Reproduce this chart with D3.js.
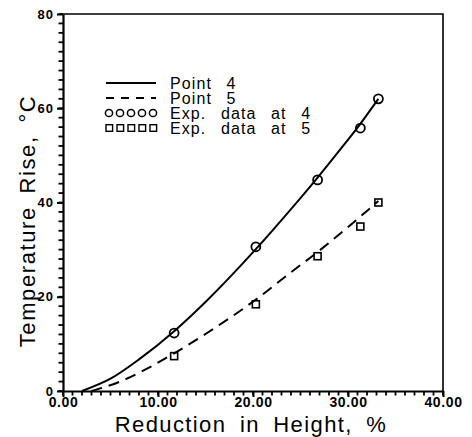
<!DOCTYPE html>
<html>
<head>
<meta charset="utf-8">
<script src="https://cdn.jsdelivr.net/npm/d3@7"></script>
<style>
  body { margin: 0; background: #fff; }
  svg { display: block; font-family: "Liberation Sans", Arial, sans-serif; }
</style>
</head>
<body>
<svg id="chart" width="472" height="437"></svg>
<script>
// curve readings (Point 4 solid, Point 5 dashed)
var curve4X = [2, 5, 8, 11.7, 15, 20.3, 24, 26.8, 29, 31.3, 33.2];
var curve4Y = [0, 2.6, 6.7, 12.7, 18.9, 30.1, 38.6, 45.3, 50.8, 56.7, 62.0];
var curve5X = [3, 6, 9, 11.7, 15, 20.3, 24, 26.8, 29, 31.3, 33.2];
var curve5Y = [0, 2.0, 4.9, 8.0, 12.1, 19.4, 25.2, 29.5, 33.1, 37.0, 40.3];
// experimental points
var expX = [11.7, 20.3, 26.8, 31.3, 33.2];
var exp4Y = [12.3, 30.6, 44.8, 55.8, 62.0];
var exp5Y = [7.4, 18.4, 28.6, 34.9, 40.0];
// ticks
var xMajor = [0, 10, 20, 30, 40];
var yMajor = [0, 20, 40, 60, 80];
var xMinor = d3.range(0, 41, 1);
var yMinor = d3.range(0, 81, 2);
var legendLabels = ["Point 4", "Point 5", "Exp. data at 4", "Exp. data at 5"];

var svg = d3.select("svg#chart");
var x = d3.scaleLinear().domain([0, 40]).range([63, 443]);
var y = d3.scaleLinear().domain([0, 80]).range([391, 14]);

function pairs(xs, ys) {
  return xs.map(function(d, i) { return [d, ys[i]]; });
}

// frame (top + right)
svg.append("path")
  .attr("d", "M" + x(0) + "," + y(80) + "H" + x(40) + "V" + y(0))
  .attr("fill", "none")
  .attr("stroke", "#000")
  .attr("stroke-width", 1.6);

// minor ticks
svg.append("g")
  .attr("class", "minor")
  .selectAll("line")
  .data(yMinor)
  .enter()
  .append("line")
  .attr("x1", x(0) - 4.5)
  .attr("x2", x(0))
  .attr("y1", function(d) { return y(d); })
  .attr("y2", function(d) { return y(d); });
svg.append("g")
  .attr("class", "minor")
  .selectAll("line")
  .data(xMinor)
  .enter()
  .append("line")
  .attr("x1", function(d) { return x(d); })
  .attr("x2", function(d) { return x(d); })
  .attr("y1", y(0))
  .attr("y2", y(0) + 4.5);
svg.selectAll("g.minor line")
  .attr("stroke", "#000")
  .attr("stroke-width", 1.8);

// major axes
var yAxis = svg.append("g")
  .attr("transform", "translate(" + x(0) + ",0)")
  .call(d3.axisLeft(y).tickValues(yMajor).tickSize(6).tickSizeOuter(0).tickPadding(3).tickFormat(d3.format("d")));
var xAxis = svg.append("g")
  .attr("transform", "translate(0," + y(0) + ")")
  .call(d3.axisBottom(x).tickValues(xMajor).tickSize(6).tickSizeOuter(0).tickPadding(0).tickFormat(d3.format(".2f")));
[yAxis, xAxis].forEach(function(g) {
  g.select(".domain").attr("stroke-width", 2.2);
  g.selectAll("line").attr("stroke-width", 2);
  g.selectAll("text")
    .attr("font-family", "'Liberation Sans', Arial, sans-serif")
    .attr("font-weight", "bold")
    .attr("fill", "#000");
});
yAxis.selectAll("text").attr("font-size", 13).attr("letter-spacing", 1);
xAxis.selectAll("text").attr("font-size", 14).attr("letter-spacing", 0.6);

// curves
var line = d3.line()
  .x(function(d) { return x(d[0]); })
  .y(function(d) { return y(d[1]); })
  .curve(d3.curveMonotoneX);

svg.append("path")
  .datum(pairs(curve4X, curve4Y))
  .attr("d", line)
  .attr("fill", "none")
  .attr("stroke", "#000")
  .attr("stroke-width", 2);

svg.append("path")
  .datum(pairs(curve5X, curve5Y))
  .attr("d", line)
  .attr("fill", "none")
  .attr("stroke", "#000")
  .attr("stroke-width", 2)
  .attr("stroke-dasharray", "11,7");

// experimental markers
svg.append("g")
  .selectAll("circle")
  .data(pairs(expX, exp4Y))
  .enter()
  .append("circle")
  .attr("cx", function(d) { return x(d[0]); })
  .attr("cy", function(d) { return y(d[1]); })
  .attr("r", 4.5)
  .attr("fill", "none")
  .attr("stroke", "#000")
  .attr("stroke-width", 1.8);

svg.append("g")
  .selectAll("rect")
  .data(pairs(expX, exp5Y))
  .enter()
  .append("rect")
  .attr("x", function(d) { return x(d[0]) - 3.5; })
  .attr("y", function(d) { return y(d[1]) - 3.5; })
  .attr("width", 7)
  .attr("height", 7)
  .attr("fill", "none")
  .attr("stroke", "#000")
  .attr("stroke-width", 1.6);

// legend
var legend = svg.append("g").attr("transform", "translate(106,83)");
var rowH = 15;
legend.append("line")
  .attr("x1", 0).attr("x2", 50).attr("y1", 0).attr("y2", 0)
  .attr("stroke", "#000").attr("stroke-width", 2);
legend.append("line")
  .attr("x1", 0).attr("x2", 50).attr("y1", rowH).attr("y2", rowH)
  .attr("stroke", "#000").attr("stroke-width", 2)
  .attr("stroke-dasharray", "8,7");
legend.selectAll("circle")
  .data(d3.range(5))
  .enter()
  .append("circle")
  .attr("cx", function(d) { return 3 + d * 11; })
  .attr("cy", rowH * 2)
  .attr("r", 3.6)
  .attr("fill", "none")
  .attr("stroke", "#000")
  .attr("stroke-width", 1.5);
legend.selectAll("rect")
  .data(d3.range(5))
  .enter()
  .append("rect")
  .attr("x", function(d) { return d * 11; })
  .attr("y", rowH * 3 - 3.3)
  .attr("width", 6.6)
  .attr("height", 6.6)
  .attr("fill", "none")
  .attr("stroke", "#000")
  .attr("stroke-width", 1.4);
legend.selectAll("text")
  .data(legendLabels)
  .enter()
  .append("text")
  .attr("x", 64)
  .attr("y", function(d, i) { return i * rowH + 5.5; })
  .attr("font-size", 16)
  .attr("letter-spacing", 1.1)
  .attr("word-spacing", 9)
  .text(function(d) { return d; });

// axis titles
svg.append("text")
  .attr("x", 251)
  .attr("y", 432)
  .attr("text-anchor", "middle")
  .attr("font-size", 22)
  .attr("letter-spacing", 1.4)
  .attr("word-spacing", 6)
  .text("Reduction in Height, %");

svg.append("text")
  .attr("transform", "translate(35,221) rotate(-90)")
  .attr("text-anchor", "middle")
  .attr("font-size", 22)
  .attr("letter-spacing", 1.6)
  .attr("word-spacing", 5)
  .text("Temperature Rise, \u00B0C");
</script>
</body>
</html>
